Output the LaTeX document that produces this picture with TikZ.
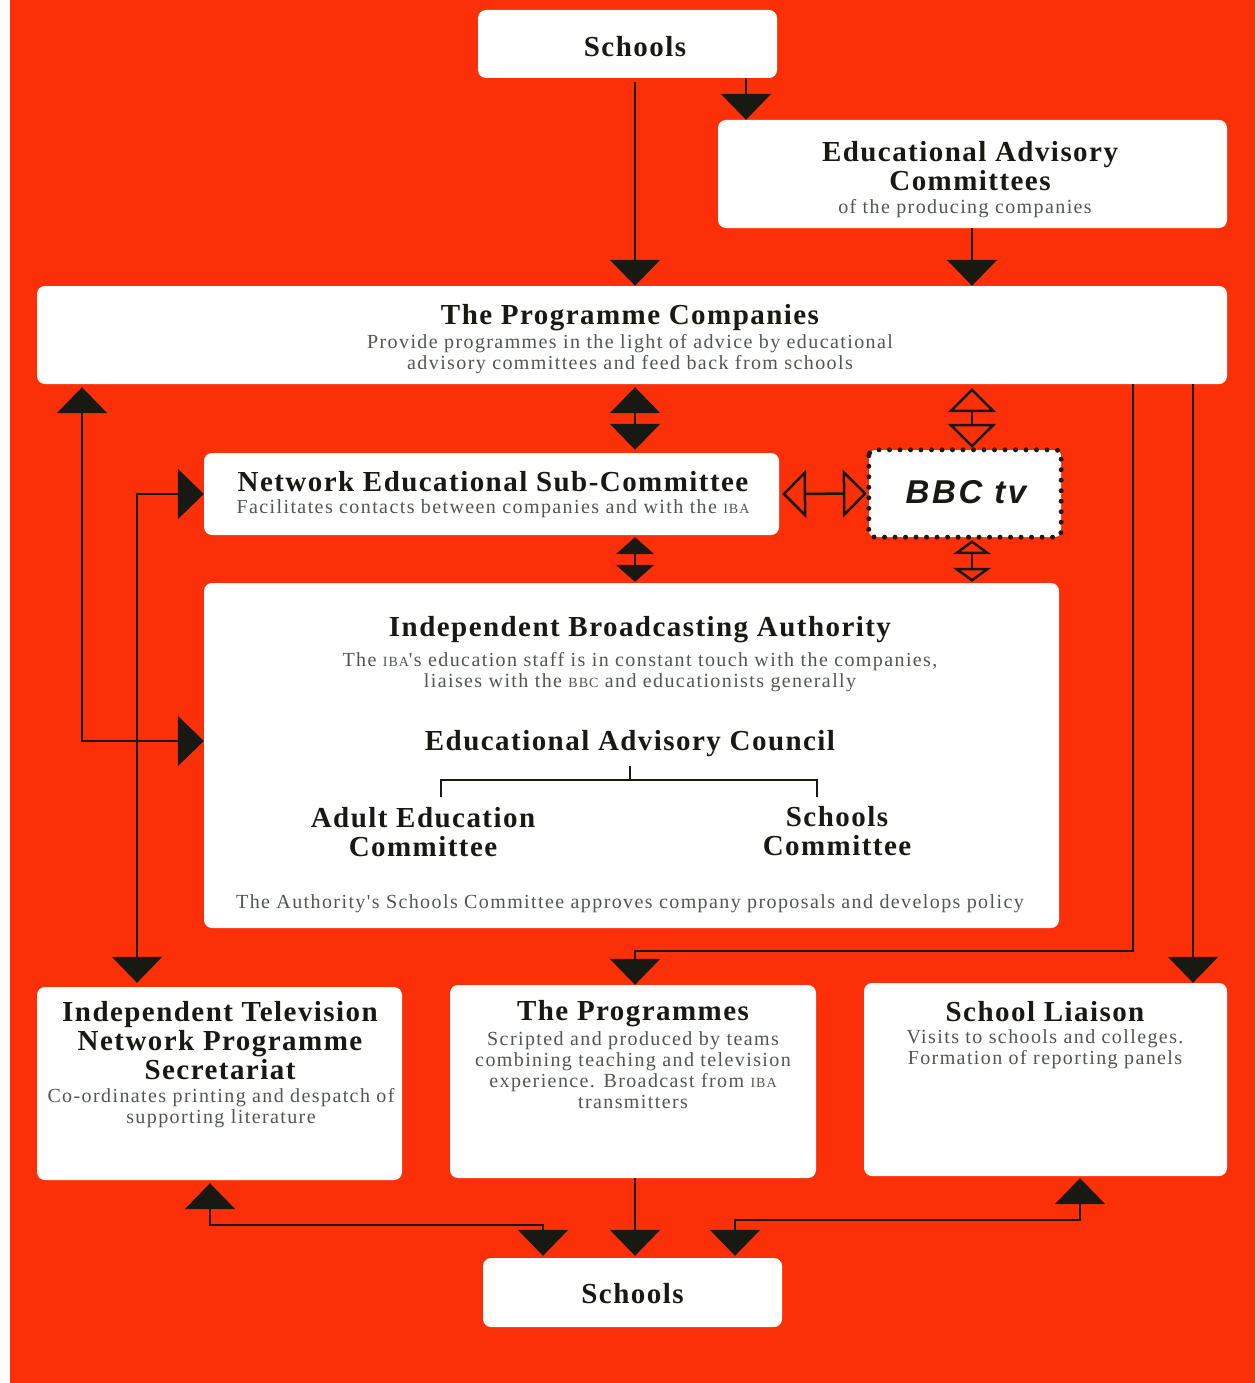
\documentclass[tikz,border=0pt]{standalone}
\usepackage{fontspec}
\usetikzlibrary{arrows.meta,calc}
\newfontfamily\ttlfont[LetterSpace=5]{Liberation Serif}
\newfontfamily\subfont[LetterSpace=7]{Liberation Serif}
\newfontfamily\bbcfont[LetterSpace=8]{Liberation Sans}
\newcommand\smc[1]{{\fontsize{14}{14}\selectfont #1}}
\definecolor{bgred}{RGB}{252,48,8}
\definecolor{ink}{RGB}{25,25,20}
\definecolor{subc}{RGB}{80,86,80}
\definecolor{dotc}{RGB}{45,20,20}
\tikzset{
  box/.style={fill=white, rounded corners=8pt, draw=none, inner sep=0pt},
  ttl/.style={font={\ttlfont\bfseries\fontsize{29}{29}\selectfont}, text=ink, align=center, inner sep=0pt},
  subt/.style={font={\subfont\fontsize{20}{21}\selectfont}, text=subc, align=center, inner sep=0pt},
  ln/.style={line width=2.5pt, draw=ink},
  fa/.style={ln, -{Triangle[length=26pt,width=50pt]}},
  fab/.style={ln, {Triangle[length=26pt,width=50pt]}-{Triangle[length=26pt,width=50pt]}},
  fsb/.style={ln, {Triangle[length=17pt,width=38pt]}-{Triangle[length=17pt,width=38pt]}},
  oab/.style={ln, {Triangle[open,length=24pt,width=48pt]}-{Triangle[open,length=24pt,width=48pt]}},
  osb/.style={ln, {Triangle[open,length=14pt,width=38pt]}-{Triangle[open,length=14pt,width=38pt]}},
}
\begin{document}
\begin{tikzpicture}[x=1pt,y=-1pt]
\useasboundingbox (0,0) rectangle (1255,1383);
\fill[white] (0,0) rectangle (1255,1383);
\fill[bgred] (10,0) rectangle (1255,1383);

% column / row coordinates
\coordinate (cx1) at (635,0);
\coordinate (cx2) at (746,0);
\coordinate (cx3) at (972,0);
\coordinate (cl1) at (82,0);
\coordinate (cl2) at (137,0);
\coordinate (cr1) at (1133,0);
\coordinate (cr2) at (1193,0);
\coordinate (cb1) at (210,0);
\coordinate (cb2) at (543,0);
\coordinate (cb3) at (735,0);
\coordinate (cb4) at (1080,0);
\coordinate (r741) at (0,741);
\coordinate (r951) at (0,951);
\coordinate (r1225) at (0,1225);
\coordinate (r1220) at (0,1220);

% boxes
\node[box, minimum width=299pt, minimum height=68pt] (schoolsT) at (627.5,44) {};
\node[box, minimum width=509pt, minimum height=108pt] (eac) at (972.5,174) {};
\node[box, minimum width=1190pt, minimum height=98pt] (pc) at (632,335) {};
\node[box, minimum width=575pt, minimum height=82pt] (nesc) at (491.5,494) {};
\node[box, rounded corners=6pt, minimum width=192pt, minimum height=87pt] (bbc) at (965,493.5) {};
\draw[dotc, line width=5pt, line cap=round, dash pattern=on 0pt off 10.5pt, rounded corners=6pt]
  (bbc.north west) rectangle (bbc.south east);
\node[box, minimum width=855pt, minimum height=345pt] (iba) at (631.5,755.5) {};
\node[box, minimum width=365pt, minimum height=193pt] (itn) at (219.5,1083.5) {};
\node[box, minimum width=366pt, minimum height=193pt] (prog) at (633,1081.5) {};
\node[box, minimum width=363pt, minimum height=193pt] (sl) at (1045.5,1079.5) {};
\node[box, minimum width=299pt, minimum height=69pt] (schoolsB) at (632.5,1292.5) {};

% texts
\node[ttl] (tSchoolsT) at (635,47) {Schools};
\node[ttl] (tEac) at (970,166) {Educational Advisory\\Committees};
\node[subt] (sEac) at (965,209) {of the producing companies};
\node[ttl] (tPc) at (630,318) {The Programme Companies};
\node[subt] (sPc) at (630,354) {Provide programmes in the light of advice by educational\\advisory committees and feed back from schools};
\node[ttl] (tNesc) at (493,482) {Network Educational Sub-Committee};
\node[subt] (sNesc) at (493,509) {Facilitates contacts between companies and with the \smc{IBA}};
\node[font={\bbcfont\bfseries\itshape\fontsize{33}{33}\selectfont}, text=ink, inner sep=0pt] (tBbc) at (966,492) {BBC tv};
\node[ttl] (tIba) at (640,630) {Independent Broadcasting Authority};
\node[subt] (sIba) at (640,672) {The \smc{IBA}'s education staff is in constant touch with the companies,\\liaises with the \smc{BBC} and educationists generally};
\node[ttl] (tCouncil) at (630,744) {Educational Advisory Council};
\node[ttl] (tAdult) at (423,832) {Adult Education\\Committee};
\node[ttl] (tSchC) at (837,831) {Schools\\Committee};
\node[subt] (sIba2) at (630,904) {The Authority's Schools Committee approves company proposals and develops policy};
\node[ttl] (tItn) at (220,1041) {Independent Television\\Network Programme\\Secretariat};
\node[subt] (sItn) at (221,1108) {Co-ordinates printing and despatch of\\supporting literature};
\node[ttl] (tProg) at (633,1014) {The Programmes};
\node[subt] (sProg) at (633,1070) {Scripted and produced by teams\\combining teaching and television\\experience. Broadcast from \smc{IBA}\\transmitters};
\node[ttl] (tSl) at (1045,1012) {School Liaison};
\node[subt] (sSl) at (1045,1049) {Visits to schools and colleges.\\Formation of reporting panels};
\node[ttl] (tSchoolsB) at (632.5,1294) {Schools};

% council bracket
\draw[ink, line width=2pt] (tCouncil.south |- 0,766) -- (tCouncil.south |- 0,780);
\draw[ink, line width=2pt] (441,797) -- (441,780) -- (817,780) -- (817,797);

% connectors
\draw[fa] ([yshift=-4pt]schoolsT.south -| cx1) -- (pc.north -| cx1);
\draw[fa] (schoolsT.south -| cx2) -- (eac.north -| cx2);
\draw[fa] (eac.south -| cx3) -- (pc.north -| cx3);
\draw[fab, shorten <=3pt, shorten >=3pt] (pc.south -| cx1) -- (nesc.north -| cx1);
\draw[oab, shorten <=4pt, shorten >=2pt] (pc.south -| cx3) -- (bbc.north -| cx3);
\draw[oab, shorten <=3pt, shorten >=2pt] (nesc.east) -- (bbc.west);
\draw[fsb, shorten <=2pt, shorten >=1pt] (nesc.south -| cx1) -- (iba.north -| cx1);
\draw[osb, shorten <=3pt, shorten >=1pt] (bbc.south -| cx3) -- (iba.north -| cx3);
\draw[fab, shorten <=3pt] (pc.south -| cl1) |- (iba.west |- r741);
\draw[fab, shorten >=4pt] (nesc.west) -| (itn.north -| cl2);
\draw[fa] (pc.south -| cr1) |- (r951 -| cx1) -- (prog.north -| cx1);
\draw[fa] (pc.south -| cr2) -- (sl.north -| cr2);
\draw[fa, shorten >=2pt] (prog.south -| cx1) -- (schoolsB.north -| cx1);
\draw[fab, shorten <=3pt, shorten >=2pt] (itn.south -| cb1) |- (r1225 -| cb2) -- (schoolsB.north -| cb2);
\draw[fab, shorten <=2pt, shorten >=2pt] (sl.south -| cb4) |- (r1220 -| cb3) -- (schoolsB.north -| cb3);
\end{tikzpicture}
\end{document}
